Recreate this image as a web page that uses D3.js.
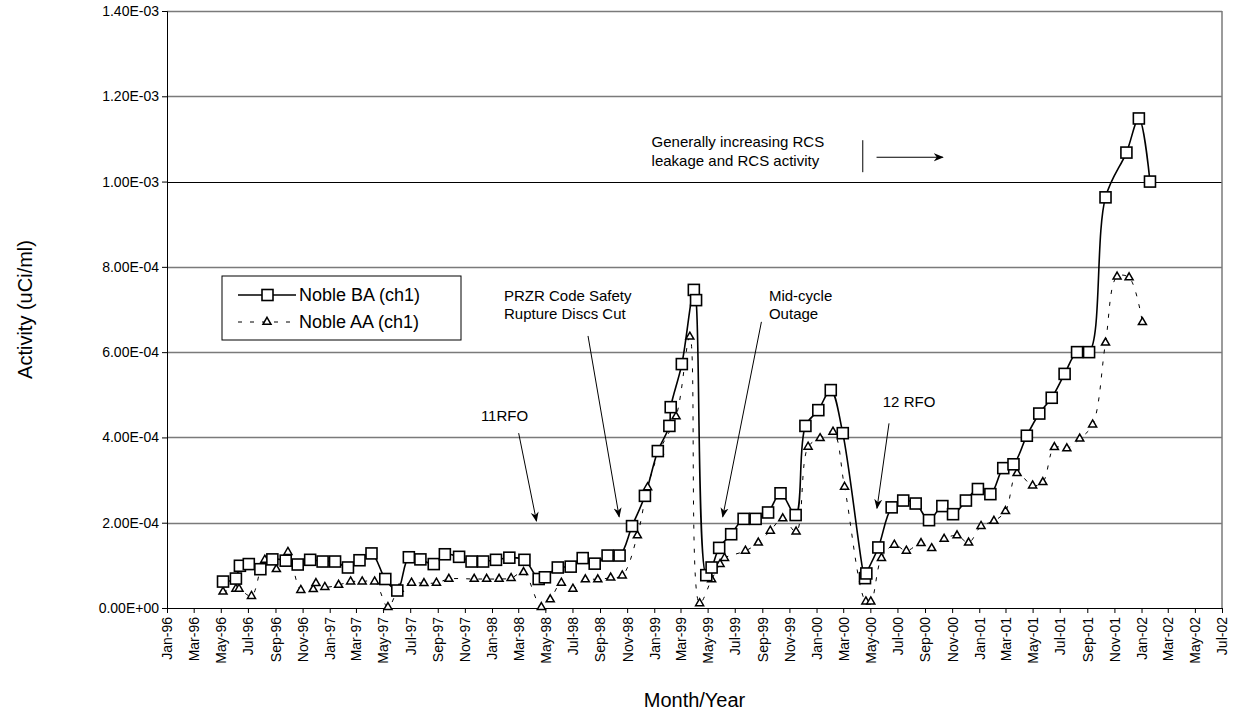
<!DOCTYPE html>
<html lang="en">
<head>
<meta charset="utf-8">
<script src="https://cdn.jsdelivr.net/npm/d3@7"></script>
<title>Noble gas activity</title>
<style>
  body { margin: 0; background: #fff; }
  svg text { font-family: Arial, "Liberation Sans", sans-serif; }
</style>
</head>
<body>
<div id="chart"></div>
<script>
// sample dates and activity (uCi/ml)
var baDates = ["1996-05-06","1996-06-04","1996-06-13","1996-07-03","1996-07-29","1996-08-25","1996-09-24","1996-10-21",
  "1996-11-18","1996-12-16","1997-01-13","1997-02-11","1997-03-09","1997-04-05","1997-05-06","1997-06-02","1997-06-28",
  "1997-07-24","1997-08-23","1997-09-17","1997-10-19","1997-11-16","1997-12-12","1998-01-10","1998-02-09","1998-03-15",
  "1998-04-16","1998-04-30","1998-05-29","1998-06-27","1998-07-24","1998-08-20","1998-09-18","1998-10-15","1998-11-12",
  "1998-12-11","1999-01-09","1999-02-04","1999-02-07","1999-03-04","1999-03-31","1999-04-05","1999-04-28","1999-05-10",
  "1999-05-27","1999-06-23","1999-07-21","1999-08-17","1999-09-14","1999-10-12","1999-11-15","1999-12-07","2000-01-05",
  "2000-02-02","2000-02-29","2000-04-19","2000-04-22","2000-05-19","2000-06-18","2000-07-14","2000-08-11","2000-09-10",
  "2000-10-10","2000-11-03","2000-12-02","2000-12-29","2001-01-26","2001-02-24","2001-03-19","2001-04-18","2001-05-16",
  "2001-06-13","2001-07-12","2001-08-09","2001-09-05","2001-10-12","2001-11-28","2001-12-26","2002-01-20"];
var baValues = [6.2e-5,6.9e-5,9.9e-5,1.03e-4,9.1e-5,1.14e-4,1.11e-4,1.02e-4,
  1.13e-4,1.09e-4,1.09e-4,9.5e-5,1.12e-4,1.28e-4,6.8e-5,4.1e-5,1.19e-4,
  1.14e-4,1.03e-4,1.26e-4,1.20e-4,1.09e-4,1.09e-4,1.13e-4,1.18e-4,1.13e-4,
  6.8e-5,7.2e-5,9.5e-5,9.7e-5,1.17e-4,1.04e-4,1.23e-4,1.23e-4,1.92e-4,
  2.63e-4,3.68e-4,4.27e-4,4.71e-4,5.72e-4,7.46e-4,7.22e-4,7.7e-5,9.5e-5,
  1.41e-4,1.73e-4,2.09e-4,2.09e-4,2.24e-4,2.69e-4,2.18e-4,4.27e-4,4.64e-4,
  5.11e-4,4.10e-4,7.0e-5,8.1e-5,1.42e-4,2.36e-4,2.52e-4,2.45e-4,2.06e-4,
  2.39e-4,2.20e-4,2.52e-4,2.79e-4,2.67e-4,3.28e-4,3.37e-4,4.04e-4,4.56e-4,
  4.93e-4,5.49e-4,6.00e-4,6.00e-4,9.63e-4,1.068e-3,1.148e-3,1.00e-3];

var aaDates = ["1996-05-06","1996-06-04","1996-06-11","1996-07-09","1996-08-08","1996-09-03","1996-09-29","1996-10-28",
  "1996-11-25","1996-12-01","1996-12-21","1997-01-21","1997-02-17","1997-03-15","1997-04-12","1997-05-12","1997-06-06",
  "1997-07-04","1997-08-01","1997-08-29","1997-09-26","1997-11-22","1997-12-20","1998-01-17","1998-02-13","1998-03-13",
  "1998-04-22","1998-05-12","1998-06-06","1998-07-02","1998-07-30","1998-08-27","1998-09-25","1998-10-21","1998-11-24",
  "1998-12-17","1999-01-12","1999-02-19","1999-03-22","1999-04-13","1999-05-10","1999-05-29","1999-06-08","1999-07-25",
  "1999-08-23","1999-09-19","1999-10-17","1999-11-16","1999-12-13","2000-01-09","2000-02-07","2000-03-04","2000-04-21",
  "2000-05-02","2000-05-26","2000-06-24","2000-07-21","2000-08-23","2000-09-16","2000-10-14","2000-11-12","2000-12-08",
  "2001-01-05","2001-02-03","2001-03-01","2001-03-27","2001-05-01","2001-05-24","2001-06-19","2001-07-17","2001-08-15",
  "2001-09-13","2001-10-12","2001-11-07","2001-12-04","2002-01-03"];
var aaValues = [3.8e-5,4.5e-5,4.5e-5,2.8e-5,1.13e-4,9.1e-5,1.31e-4,4.2e-5,
  4.4e-5,5.8e-5,4.9e-5,5.4e-5,6.2e-5,6.2e-5,6.2e-5,2e-6,4.5e-5,
  5.9e-5,5.8e-5,5.9e-5,6.8e-5,6.8e-5,6.8e-5,6.8e-5,7.0e-5,8.4e-5,
  2e-6,2.0e-5,5.9e-5,4.5e-5,6.7e-5,6.7e-5,7.1e-5,7.6e-5,1.70e-4,
  2.83e-4,3.67e-4,4.49e-4,6.36e-4,1.1e-5,6.7e-5,1.03e-4,1.17e-4,1.34e-4,
  1.53e-4,1.81e-4,2.10e-4,1.79e-4,3.78e-4,3.98e-4,4.13e-4,2.84e-4,1.5e-5,
  1.5e-5,1.17e-4,1.48e-4,1.34e-4,1.52e-4,1.40e-4,1.62e-4,1.70e-4,1.53e-4,
  1.92e-4,2.04e-4,2.27e-4,3.16e-4,2.87e-4,2.95e-4,3.77e-4,3.74e-4,3.97e-4,
  4.30e-4,6.22e-4,7.77e-4,7.75e-4,6.70e-4];

var seriesNames = ["Noble BA (ch1)", "Noble AA (ch1)"];
var yTicks = [0, 2e-4, 4e-4, 6e-4, 8e-4, 1.0e-3, 1.2e-3, 1.4e-3];
var xStart = "1996-01-01", xEnd = "2002-07-01";

// annotations: text lines, text anchor (date, value), arrow tail and head (date, value)
var notes = [
  { lines: ["PRZR Code Safety", "Rupture Discs Cut"], at: ["1998-01-28", 7.2e-4], from: ["1998-08-05", 6.38e-4], to: ["1998-10-14", 2.14e-4] },
  { lines: ["Mid-cycle", "Outage"], at: ["1999-09-16", 7.2e-4], from: ["1999-08-30", 6.71e-4], to: ["1999-06-04", 2.14e-4] },
  { lines: ["11RFO"], at: ["1997-12-07", 4.39e-4], from: ["1998-03-02", 4.10e-4], to: ["1998-04-11", 2.04e-4] },
  { lines: ["12 RFO"], at: ["2000-05-29", 4.71e-4], from: ["2000-06-12", 4.33e-4], to: ["2000-05-16", 2.34e-4] }
];
var trendLines = ["Generally increasing RCS", "leakage and RCS activity"];

var width = 1235, height = 723;
var margin = { left: 167, right: 13, top: 11, bottom: 115 };
var parse = d3.timeParse("%Y-%m-%d");

var svg = d3.select("#chart").append("svg")
  .attr("width", width).attr("height", height);

var x = d3.scaleTime()
  .domain([parse(xStart), parse(xEnd)])
  .range([margin.left, width - margin.right]);
var y = d3.scaleLinear()
  .domain([0, 1.4e-3])
  .range([height - margin.bottom, margin.top]);

function sci(v) {
  if (v === 0) return "0.00E+00";
  var s = v.toExponential(2).split("e");
  var e = +s[1];
  return s[0] + "E" + (e < 0 ? "-" : "+") + (Math.abs(e) < 10 ? "0" : "") + Math.abs(e);
}

// gridlines (the 1.00E-03 one prints darker in the original)
svg.append("g").selectAll("line")
  .data(yTicks.slice(1))
  .enter().append("line")
  .attr("x1", x.range()[0]).attr("x2", x.range()[1])
  .attr("y1", function (d) { return Math.round(y(d)) + 0.5; })
  .attr("y2", function (d) { return Math.round(y(d)) + 0.5; })
  .attr("stroke", function (d) { return d === 1.0e-3 ? "#000" : "#7a7a7a"; })
  .attr("stroke-width", function (d) { return d === 1.0e-3 ? 1 : 1.5; });
// right frame
svg.append("line")
  .attr("x1", x.range()[1]).attr("x2", x.range()[1])
  .attr("y1", y(0)).attr("y2", y(1.4e-3))
  .attr("stroke", "#7a7a7a").attr("stroke-width", 1.5);

// y axis
var yAxis = svg.append("g")
  .attr("transform", "translate(" + margin.left + ",0)")
  .call(d3.axisLeft(y).tickValues(yTicks).tickFormat(sci).tickSize(5).tickPadding(3));
yAxis.selectAll("text").style("font-size", "14px").attr("fill", "#000");
yAxis.selectAll("line, path").attr("stroke", "#000");

// x axis
var xAxis = svg.append("g")
  .attr("transform", "translate(0," + y(0) + ")")
  .call(d3.axisBottom(x).ticks(d3.timeMonth.every(2)).tickFormat(d3.timeFormat("%b-%y")).tickSize(5).tickSizeOuter(0));
xAxis.selectAll("line, path").attr("stroke", "#000");
xAxis.selectAll("text")
  .style("font-size", "14px").attr("fill", "#000")
  .attr("text-anchor", "end")
  .attr("transform", "rotate(-90)")
  .attr("x", -9).attr("y", 0).attr("dy", "0.35em");

// axis titles
svg.append("text")
  .attr("transform", "translate(25," + (y(0) + y(1.4e-3)) / 2 + ") rotate(-90)")
  .attr("text-anchor", "middle").attr("dy", "0.35em")
  .style("font-size", "20px").text("Activity (uCi/ml)");
svg.append("text")
  .attr("x", (x.range()[0] + x.range()[1]) / 2).attr("y", 707)
  .attr("text-anchor", "middle")
  .style("font-size", "20px").text("Month/Year");

// series
var ba = baDates.map(function (d, i) { return { date: parse(d), v: baValues[i] }; });
var aa = aaDates.map(function (d, i) { return { date: parse(d), v: aaValues[i] }; });

var line = d3.line()
  .x(function (d) { return x(d.date); })
  .y(function (d) { return y(d.v); })
  .curve(d3.curveCatmullRom);

svg.append("path").datum(aa)
  .attr("d", line).attr("fill", "none")
  .attr("stroke", "#000").attr("stroke-width", 1)
  .attr("stroke-dasharray", "4,8");
svg.append("path").datum(ba)
  .attr("d", line).attr("fill", "none")
  .attr("stroke", "#000").attr("stroke-width", 1.6);

var tri = d3.symbol().type(d3.symbolTriangle).size(28);
svg.append("g").selectAll("path")
  .data(aa).enter().append("path")
  .attr("d", tri)
  .attr("transform", function (d) { return "translate(" + x(d.date) + "," + y(d.v) + ")"; })
  .attr("fill", "#fff").attr("stroke", "#000").attr("stroke-width", 1.5);

svg.append("g").selectAll("rect")
  .data(ba).enter().append("rect")
  .attr("x", function (d) { return x(d.date) - 5.5; })
  .attr("y", function (d) { return y(d.v) - 5.5; })
  .attr("width", 11).attr("height", 11)
  .attr("fill", "#fff").attr("stroke", "#000").attr("stroke-width", 1.6);

// arrow head
svg.append("defs").append("marker")
  .attr("id", "arrow")
  .attr("viewBox", "0 0 10 10")
  .attr("refX", 9).attr("refY", 5)
  .attr("markerWidth", 10).attr("markerHeight", 10)
  .attr("markerUnits", "userSpaceOnUse")
  .attr("orient", "auto")
  .append("path").attr("d", "M0,1 L10,5 L0,9 L3,5 Z").attr("fill", "#000");

// annotations
var ann = svg.append("g").style("font-size", "15px");
notes.forEach(function (n) {
  var t = ann.append("text")
    .attr("x", x(parse(n.at[0]))).attr("y", y(n.at[1]));
  n.lines.forEach(function (s, i) {
    t.append("tspan").attr("x", x(parse(n.at[0]))).attr("dy", i === 0 ? 0 : 18).text(s);
  });
  ann.append("line")
    .attr("x1", x(parse(n.from[0]))).attr("y1", y(n.from[1]))
    .attr("x2", x(parse(n.to[0]))).attr("y2", y(n.to[1]))
    .attr("stroke", "#000").attr("stroke-width", 1)
    .attr("marker-end", "url(#arrow)");
});

// trend note
var tx = x(parse("1998-12-26"));
var tnote = ann.append("text").attr("x", tx).attr("y", y(1.081e-3));
trendLines.forEach(function (s, i) {
  tnote.append("tspan").attr("x", tx).attr("dy", i === 0 ? 0 : 19).text(s);
});
ann.append("line")
  .attr("x1", x(parse("2000-04-14"))).attr("x2", x(parse("2000-04-14")))
  .attr("y1", y(1.097e-3)).attr("y2", y(1.022e-3))
  .attr("stroke", "#000").attr("stroke-width", 1);
ann.append("line")
  .attr("x1", x(parse("2000-05-15"))).attr("x2", x(parse("2000-10-11")))
  .attr("y1", y(1.057e-3)).attr("y2", y(1.057e-3))
  .attr("stroke", "#000").attr("stroke-width", 1)
  .attr("marker-end", "url(#arrow)");

// legend
var lg = svg.append("g").attr("transform", "translate(222,276)");
lg.append("rect").attr("width", 239).attr("height", 64)
  .attr("fill", "#fff").attr("stroke", "#000").attr("stroke-width", 1);
lg.append("line").attr("x1", 16).attr("x2", 74).attr("y1", 19).attr("y2", 19)
  .attr("stroke", "#000").attr("stroke-width", 1.6);
lg.append("rect").attr("x", 40).attr("y", 13.5).attr("width", 11).attr("height", 11)
  .attr("fill", "#fff").attr("stroke", "#000").attr("stroke-width", 1.6);
lg.append("line").attr("x1", 16).attr("x2", 74).attr("y1", 46).attr("y2", 46)
  .attr("stroke", "#000").attr("stroke-width", 1).attr("stroke-dasharray", "4,8");
lg.append("path").attr("d", tri).attr("transform", "translate(45,46)")
  .attr("fill", "#fff").attr("stroke", "#000").attr("stroke-width", 1.5);
lg.selectAll("text.lab").data(seriesNames).enter().append("text")
  .attr("class", "lab")
  .attr("x", 77).attr("y", function (d, i) { return 19 + i * 27; })
  .attr("dy", "0.35em").style("font-size", "18px").text(function (d) { return d; });
</script>
</body>
</html>
